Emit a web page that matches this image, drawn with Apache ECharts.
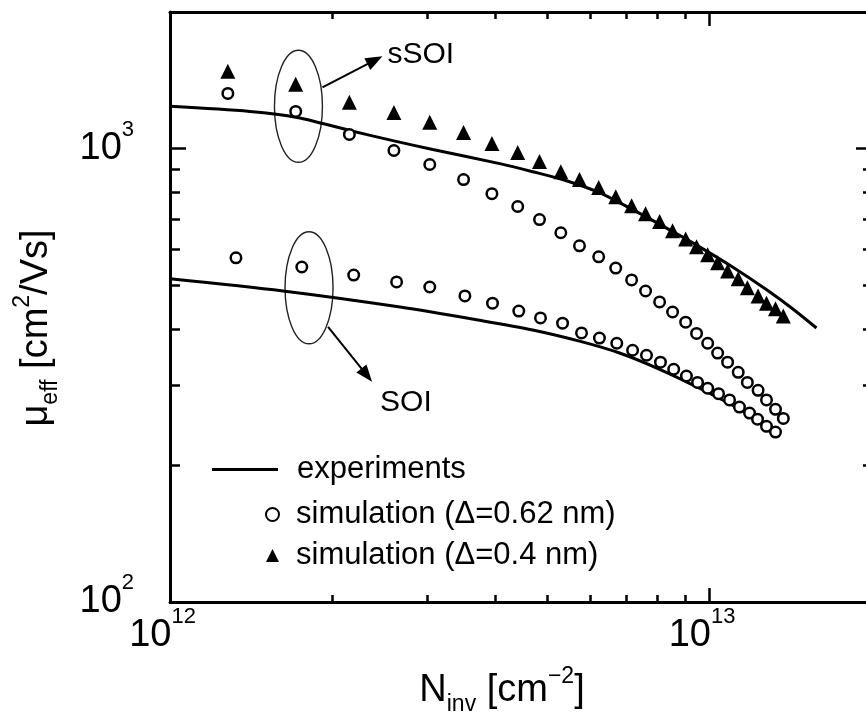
<!DOCTYPE html>
<html>
<head>
<meta charset="utf-8">
<script src="https://cdn.jsdelivr.net/npm/echarts@6/dist/echarts.min.js"></script>
<style>
  html, body { margin: 0; padding: 0; background: #fff; }
  #chart { width: 866px; height: 720px; }
</style>
</head>
<body>
<div id="chart"></div>
<script>
// N_inv [cm^-2] and mu_eff [cm^2/Vs]
var expSsoiN  = [1.0e12, 1.406e12, 1.72e12, 2.154e12, 2.588e12, 3.069e12, 4.084e12, 4.70e12, 5.41e12,
                 6.25e12, 7.20e12, 8.29e12, 9.58e12, 1.103e13, 1.27e13, 1.419e13, 1.578e13];
var expSsoiMu = [1239, 1207, 1171, 1096, 1041, 995, 926, 889, 850,
                 799, 733, 669, 607, 548, 490, 445, 402];

var expSoiN  = [1.0e12, 1.62e12, 2.67e12, 3.75e12, 4.70e12, 5.74e12, 6.81e12, 8.08e12, 9.58e12, 1.137e13, 1.31e13];
var expSoiMu = [516, 485, 447, 418, 398, 376, 354, 326, 296, 266, 239];

// sSOI simulation, both offsets share the same N_inv points
var simSsoiN = [1.28e12, 1.71e12, 2.15e12, 2.60e12, 3.03e12, 3.50e12, 3.95e12, 4.41e12, 4.84e12, 5.30e12,
                5.74e12, 6.23e12, 6.70e12, 7.17e12, 7.61e12, 8.08e12, 8.54e12, 9.03e12, 9.46e12, 9.92e12,
                1.035e13, 1.08e13, 1.13e13, 1.175e13, 1.23e13, 1.275e13, 1.325e13, 1.37e13];
var simSsoiMu062 = [1323, 1207, 1074, 990, 922, 854, 795, 745, 697, 652,
                    610, 577, 545, 513, 485, 459, 436, 414, 391, 372,
                    354, 338, 321, 305, 293, 279, 266, 254];
var simSsoiMu04 = [1480, 1385, 1264, 1201, 1142, 1085, 1026, 980, 936, 889,
                   854, 820, 783, 748, 718, 690, 659, 632, 607, 583,
                   560, 537, 516, 493, 473, 456, 443, 427];

// SOI simulation (delta = 0.62 nm)
var simSoiN = [1.325e12, 1.755e12, 2.19e12, 2.63e12, 3.03e12, 3.52e12, 3.96e12, 4.43e12, 4.86e12, 5.34e12,
               5.79e12, 6.25e12, 6.73e12, 7.20e12, 7.64e12, 8.11e12, 8.58e12, 9.06e12, 9.50e12, 9.92e12,
               1.039e13, 1.089e13, 1.136e13, 1.186e13, 1.227e13, 1.275e13, 1.325e13];
var simSoiMu = [574, 548, 526, 508, 495, 473, 456, 438, 423, 412,
                392, 382, 372, 359, 350, 338, 326, 315, 305, 296,
                288, 279, 269, 261, 253, 244, 237];

// axis ranges and ticks
var xRange = [1e12, 2e13];
var yRange = [100, 2000];
var xMajor = [1e12, 1e13];
var xMinor = [2e12, 3e12, 4e12, 5e12, 6e12, 7e12, 8e12, 9e12, 2e13];
var yMajor = [100, 1000];
var yMinor = [200, 300, 400, 500, 600, 700, 800, 900, 2000];

// where the group ellipses sit (data coords)
var ssoiTagAt = [1.73e12, 1239];
var soiTagAt = [1.81e12, 493];

var LEG_EXP = 'experiments';
var LEG_062 = 'simulation (\u0394=0.62 nm)';
var LEG_04 = 'simulation (\u0394=0.4 nm)';

var FONT = "'Liberation Sans', Arial, sans-serif";

function zip(a, b) {
  var out = [];
  for (var i = 0; i < a.length; i++) out.push([a[i], b[i]]);
  return out;
}

function powLabel(v) {
  var e = Math.round(Math.log(v) / Math.LN10);
  return '{b|10}{s|' + e + '}';
}

var powRich = {
  b: { fontSize: 38, lineHeight: 60, fontFamily: FONT, color: '#000' },
  s: { fontSize: 22, lineHeight: 22, verticalAlign: 'top', fontFamily: FONT, color: '#000' }
};

var titleRich = {
  a: { fontSize: 38, lineHeight: 51, fontFamily: FONT, color: '#000' },
  sub: { fontSize: 23, lineHeight: 24, verticalAlign: 'bottom', fontFamily: FONT, color: '#000' },
  sup: { fontSize: 23, lineHeight: 24, verticalAlign: 'top', fontFamily: FONT, color: '#000' }
};

function axis(position, range, ticks, len, showLine, extra) {
  var o = {
    type: 'log',
    position: position,
    min: range[0],
    max: range[1],
    axisLine: { show: showLine, lineStyle: { color: '#000', width: 3 } },
    axisTick: { show: true, inside: true, length: len, customValues: ticks,
                lineStyle: { color: '#000', width: 2.5 } },
    axisLabel: { show: false },
    splitLine: { show: false },
    minorTick: { show: false }
  };
  if (extra) {
    for (var k in extra) o[k] = extra[k];
  }
  return o;
}

var chart = echarts.init(document.getElementById('chart'));

var option = {
  animation: false,
  backgroundColor: '#fff',
  grid: { left: 170, right: -6, top: 12, bottom: 118, outerBoundsMode: 'none' },
  xAxis: [
    axis('bottom', xRange, xMajor, 14, true, {
      axisLabel: { show: true, customValues: xMajor, margin: 4, formatter: powLabel, rich: powRich,
                   padding: [0, 15, 0, 0] },
      name: '{a|N}{sub|inv}{a| [cm}{sup|\u22122}{a|]}',
      nameLocation: 'middle',
      nameGap: 63,
      nameMoveOverlap: false,
      nameTextStyle: { rich: titleRich, padding: [0, 38, 0, 0] }
    }),
    axis('bottom', xRange, xMinor, 7, false),
    axis('top', xRange, xMajor, 14, true),
    axis('top', xRange, xMinor, 7, false)
  ],
  yAxis: [
    axis('left', yRange, yMajor, 16, true, {
      axisLabel: { show: true, customValues: yMajor, margin: 36, formatter: powLabel, rich: powRich },
      name: '{a|\u03bc}{sub|eff}{a| [cm}{sup|2}{a|/Vs]}',
      nameLocation: 'middle',
      nameGap: 108,
      nameMoveOverlap: false,
      nameTextStyle: { rich: titleRich, padding: [0, 42, 0, 0] }
    }),
    axis('left', yRange, yMinor, 10, false),
    axis('right', yRange, yMajor, 16, true),
    axis('right', yRange, yMinor, 9, false)
  ],
  legend: [
    {
      data: [{ name: LEG_EXP, icon: 'rect' }],
      left: 207, top: 449,
      itemWidth: 66, itemHeight: 3,
      itemStyle: { color: '#000' },
      textStyle: { fontSize: 31, fontFamily: FONT, color: '#000', padding: [0, 0, 0, 14] }
    },
    {
      data: [LEG_062, LEG_04],
      orient: 'vertical',
      left: 260, top: 494,
      itemWidth: 13, itemHeight: 13, itemGap: 10,
      textStyle: { fontSize: 31, fontFamily: FONT, color: '#000', padding: [0, 0, 0, 12] }
    }
  ],
  series: [
    {
      name: LEG_EXP, type: 'line', data: zip(expSsoiN, expSsoiMu),
      smooth: 0.3, symbol: 'none',
      lineStyle: { color: '#000', width: 3 }, itemStyle: { color: '#000' }, z: 2
    },
    {
      name: LEG_EXP, type: 'line', data: zip(expSoiN, expSoiMu),
      smooth: 0.3, symbol: 'none',
      lineStyle: { color: '#000', width: 3 }, itemStyle: { color: '#000' }, z: 2
    },
    {
      name: LEG_062, type: 'scatter', data: zip(simSsoiN, simSsoiMu062),
      symbol: 'circle', symbolSize: 10.5,
      itemStyle: { color: '#fff', borderColor: '#000', borderWidth: 2.5, opacity: 1 }, z: 3
    },
    {
      name: LEG_062, type: 'scatter', data: zip(simSoiN, simSoiMu),
      symbol: 'circle', symbolSize: 10.5,
      itemStyle: { color: '#fff', borderColor: '#000', borderWidth: 2.5, opacity: 1 }, z: 3
    },
    {
      name: LEG_04, type: 'scatter', data: zip(simSsoiN, simSsoiMu04),
      symbol: 'triangle', symbolSize: 15,
      itemStyle: { color: '#000', opacity: 1 }, z: 4
    }
  ]
};

chart.setOption(option);

// group ellipses with arrows and tags, anchored to data coordinates
function arrowParts(x0, y0, x1, y1) {
  var dx = x1 - x0, dy = y1 - y0;
  var l = Math.sqrt(dx * dx + dy * dy);
  var ux = dx / l, uy = dy / l, px = -uy, py = ux;
  var hl = 17, hw = 6.5;
  return [
    { type: 'line', shape: { x1: x0, y1: y0, x2: x1 - ux * 10, y2: y1 - uy * 10 },
      style: { stroke: '#000', lineWidth: 2 } },
    { type: 'polygon', shape: { points: [[x1, y1],
        [x1 - ux * hl + px * hw, y1 - uy * hl + py * hw],
        [x1 - ux * hl - px * hw, y1 - uy * hl - py * hw]] },
      style: { fill: '#000' } }
  ];
}

function tag(at, arrowFrom, arrowTo, label, labelOff) {
  var c = chart.convertToPixel({ xAxisIndex: 0, yAxisIndex: 0 }, at);
  var els = [
    { type: 'ellipse', shape: { cx: c[0], cy: c[1], rx: 24, ry: 56 },
      style: { fill: 'none', stroke: '#222', lineWidth: 1.4 } }
  ];
  els = els.concat(arrowParts(c[0] + arrowFrom[0], c[1] + arrowFrom[1], c[0] + arrowTo[0], c[1] + arrowTo[1]));
  els.push({ type: 'text', x: c[0] + labelOff[0], y: c[1] + labelOff[1],
    style: { text: label, fontSize: 30, fontFamily: FONT, fill: '#000', verticalAlign: 'middle' } });
  return els;
}

var g = [].concat(
  tag(ssoiTagAt, [24, -19], [84, -50], 'sSOI', [89, -52]),
  tag(soiTagAt, [19, 39], [63, 94], 'SOI', [71, 115])
);
chart.setOption({ graphic: g });
</script>
</body>
</html>
